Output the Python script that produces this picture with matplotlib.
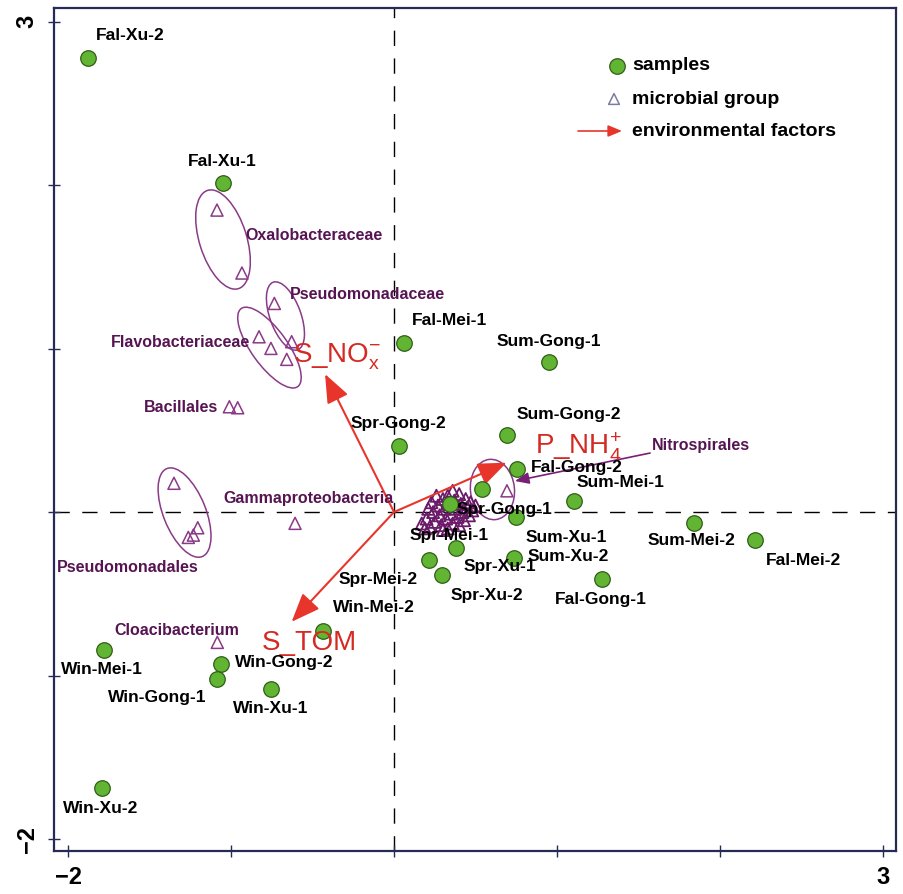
import matplotlib
matplotlib.use("Agg")
import matplotlib.pyplot as plt
from matplotlib.patches import Ellipse

plt.rcParams['font.family'] = ['Liberation Sans', 'DejaVu Sans']
plt.rcParams['mathtext.fontset'] = 'custom'
plt.rcParams['mathtext.rm'] = 'Liberation Sans'
plt.rcParams['mathtext.it'] = 'Liberation Sans'
plt.rcParams['mathtext.bf'] = 'Liberation Sans:bold'

# ---------------- data ----------------
sample_names = ["Fal-Xu-2", "Fal-Xu-1", "Fal-Mei-1", "Sum-Gong-1", "Spr-Gong-2", "Sum-Gong-2",
                "Fal-Gong-2", "Spr-Gong-1", "Spr-Mei-1", "Sum-Mei-1", "Sum-Xu-1", "Spr-Xu-1",
                "Spr-Mei-2", "Sum-Xu-2", "Spr-Xu-2", "Fal-Gong-1", "Sum-Mei-2", "Fal-Mei-2",
                "Win-Mei-2", "Win-Mei-1", "Win-Gong-2", "Win-Gong-1", "Win-Xu-1", "Win-Xu-2"]
sample_x = [-1.879, -1.047, 0.061, 0.953, 0.033, 0.691,
            0.753, 0.538, 0.344, 1.106, 0.748, 0.380,
            0.217, 0.736, 0.293, 1.274, 1.840, 2.215,
            -0.437, -1.779, -1.061, -1.084, -0.753, -1.793]
sample_y = [2.775, 2.010, 1.035, 0.916, 0.406, 0.471,
            0.263, 0.141, 0.049, 0.067, -0.032, -0.218,
            -0.294, -0.280, -0.385, -0.412, -0.065, -0.171,
            -0.726, -0.844, -0.932, -1.020, -1.084, -1.690]

# microbial groups (labelled taxa)
group_x = [-1.086, -0.933, -0.734, -0.828, -0.755, -0.628, -0.658, -1.010, -0.959,
           -1.350, -1.204, -1.231, -1.262, -0.607, -1.084, 0.693]
group_y = [1.847, 1.462, 1.276, 1.072, 1.001, 1.042, 0.934, 0.644, 0.638,
           0.176, -0.096, -0.141, -0.155, -0.069, -0.797, 0.130]

# dense cluster of other microbial groups near the origin
cluster_x = [0.17, 0.20, 0.22, 0.24, 0.25, 0.27, 0.28, 0.29, 0.30, 0.31, 0.32, 0.33,
             0.34, 0.35, 0.36, 0.37, 0.38, 0.39, 0.40, 0.41, 0.42, 0.43, 0.44, 0.45,
             0.46, 0.47, 0.48, 0.50, 0.26, 0.23, 0.21, 0.19, 0.33, 0.40, 0.36, 0.30]
cluster_y = [-0.07, -0.04, -0.09, 0.00, -0.06, 0.04, -0.02, -0.08, 0.08, 0.02, -0.04, 0.10,
             0.05, -0.01, -0.07, 0.07, 0.02, -0.03, 0.11, 0.05, 0.00, -0.05, 0.08, 0.03,
             -0.02, 0.06, 0.01, 0.04, 0.10, 0.06, 0.02, -0.10, -0.10, -0.08, 0.13, -0.11]

group_labels = ["Oxalobacteraceae", "Pseudomonadaceae", "Flavobacteriaceae", "Bacillales",
                "Gammaproteobacteria", "Pseudomonadales", "Cloacibacterium", "Nitrospirales"]
group_label_x = [-0.914, -0.638, -0.883, -1.080, -1.049, -2.067, -1.718, 1.583]
group_label_y = [1.694, 1.333, 1.040, 0.642, 0.086, -0.336, -0.722, 0.410]

# ellipses around groups: centre x, centre y, width, height, angle
ell_cx = [-1.049, -0.666, -0.764, -1.285, 0.604]
ell_cy = [1.667, 1.199, 1.006, -0.003, 0.138]
ell_w = [0.63, 0.44, 0.59, 0.58, 0.37]
ell_h = [0.29, 0.19, 0.22, 0.26, 0.27]
ell_ang = [107.5, 110.0, 126.0, 112.0, 96.0]

# environmental factors (arrow tips)
env_names = [r"S_NO$_{\mathregular{x}}^{\mathregular{-}}$", r"P_NH$_{\mathregular{4}}^{\mathregular{+}}$", "S_TOM"]
env_x = [-0.423, 0.691, -0.628]
env_y = [0.844, 0.302, -0.671]
env_label_x = [-0.620, 0.865, -0.810]
env_label_y = [0.948, 0.398, -0.801]

# ---------------- styling ----------------
label_offsets = [(43, 23), (-1, 22), (46, 22), (-1, 21), (-1, 22), (62, 21),
                 (60, 2), (23, -20), (-1, -31), (46, 19), (50, -20), (44, -19),
                 (-51, -19), (54, 1), (45, -20), (-1, -20), (-2, -18), (48, -20),
                 (51, 23), (-2, -19), (63, 2), (-60, -19), (-1, -19), (-1, -20)]
group_label_ha = ['left', 'left', 'right', 'right', 'left', 'left', 'left', 'left']

GREEN = '#62b532'
GREEN_EDGE = '#2f5e17'
PURPLE = '#8a3a88'
PURPLE_TXT = '#561452'
RED = '#e8352c'
RED_TXT = '#d42a22'
SPINE = '#262b55'

fig = plt.figure(figsize=(9.04, 8.94), dpi=100)
ax = fig.add_axes([54 / 904, 1 - 851 / 894, 842 / 904, 843 / 894])
ax.set_xlim(-2.086, 3.080)
ax.set_ylim(-2.073, 3.083)

# dashed axes lines
ax.axhline(0, color='black', lw=1.0, dashes=(11, 9), zorder=1)
ax.axvline(0, color='black', lw=1.0, dashes=(11, 9), zorder=1)

# ellipses
for cx, cy, w, h, a in zip(ell_cx, ell_cy, ell_w, ell_h, ell_ang):
    ax.add_patch(Ellipse((cx, cy), w, h, angle=a, fill=False, ec=PURPLE, lw=1.1, zorder=2))

# triangles
ax.scatter(cluster_x, cluster_y, marker='^', s=75, facecolors='none', edgecolors='#6a1a68',
           linewidths=1.3, zorder=3)
ax.scatter(group_x, group_y, marker='^', s=75, facecolors='none', edgecolors=PURPLE,
           linewidths=1.1, zorder=3)

# group labels
for t, x, y, ha in zip(group_labels, group_label_x, group_label_y, group_label_ha):
    ax.text(x, y, t, ha=ha, va='center', fontsize=11.5, fontweight='bold', color=PURPLE_TXT, zorder=6)

# Nitrospirales pointer
ax.annotate('', xy=(0.742, 0.190), xytext=(1.571, 0.361),
            arrowprops=dict(arrowstyle='-|>,head_length=0.6,head_width=0.25', color='#7a1f78',
                            lw=1.2, mutation_scale=14, shrinkA=0, shrinkB=0), zorder=5)

# environmental arrows
for x, y in zip(env_x, env_y):
    ax.annotate('', xy=(x, y), xytext=(0, 0),
                arrowprops=dict(arrowstyle='-|>,head_length=0.8,head_width=0.32', color=RED,
                                lw=1.5, mutation_scale=22, shrinkA=0, shrinkB=0), zorder=4)
for t, x, y in zip(env_names, env_label_x, env_label_y):
    ax.text(x, y, t, ha='left', va='center', fontsize=20, color=RED_TXT, zorder=6)

# samples
ax.scatter(sample_x, sample_y, s=125, c=GREEN, edgecolors=GREEN_EDGE, linewidths=0.9, zorder=5)
for n, x, y, (dx, dy) in zip(sample_names, sample_x, sample_y, label_offsets):
    ax.annotate(n, (x, y), xytext=(dx, dy), textcoords='offset pixels', ha='center', va='center',
                fontsize=12.5, fontweight='bold', color='black', zorder=7)

# legend (drawn manually)
ax.scatter([(617 - 54) / 842], [(851 - 66) / 843], s=125, c=GREEN, edgecolors=GREEN_EDGE,
           linewidths=0.9, transform=ax.transAxes, zorder=8)
ax.scatter([(614 - 54) / 842], [(851 - 99) / 843], marker='^', s=60, facecolors='none',
           edgecolors='#7c7ca0', linewidths=1.1, transform=ax.transAxes, zorder=8)
ax.annotate('', xy=((622 - 54) / 842, (851 - 131) / 843), xytext=((578 - 54) / 842, (851 - 131) / 843),
            xycoords='axes fraction', textcoords='axes fraction',
            arrowprops=dict(arrowstyle='-|>,head_length=0.6,head_width=0.25', color=RED, lw=1.2,
                            mutation_scale=14, shrinkA=0, shrinkB=0))
for t, py in zip(["samples", "microbial group", "environmental factors"], [66, 99, 132]):
    ax.text((632 - 54) / 842, (851 - py) / 843, t, transform=ax.transAxes, ha='left', va='center',
            fontsize=14, fontweight='bold', color='black')

# ticks and spines
ax.set_xticks([-2, -1, 0, 1, 2, 3])
ax.set_xticklabels(['\u22122', '', '', '', '', '3'])
ax.set_yticks([-2, -1, 0, 1, 2, 3])
ax.set_yticklabels(['\u22122', '', '', '', '', '3'], rotation=90, va='center')
ax.tick_params(axis='both', direction='inout', length=8, width=1.0, color=SPINE,
               labelsize=17, pad=7)
for lab in ax.get_xticklabels() + ax.get_yticklabels():
    lab.set_fontweight('bold')
for s in ax.spines.values():
    s.set_color(SPINE)
    s.set_linewidth(1.6)

fig.savefig('out.png', dpi=100)
